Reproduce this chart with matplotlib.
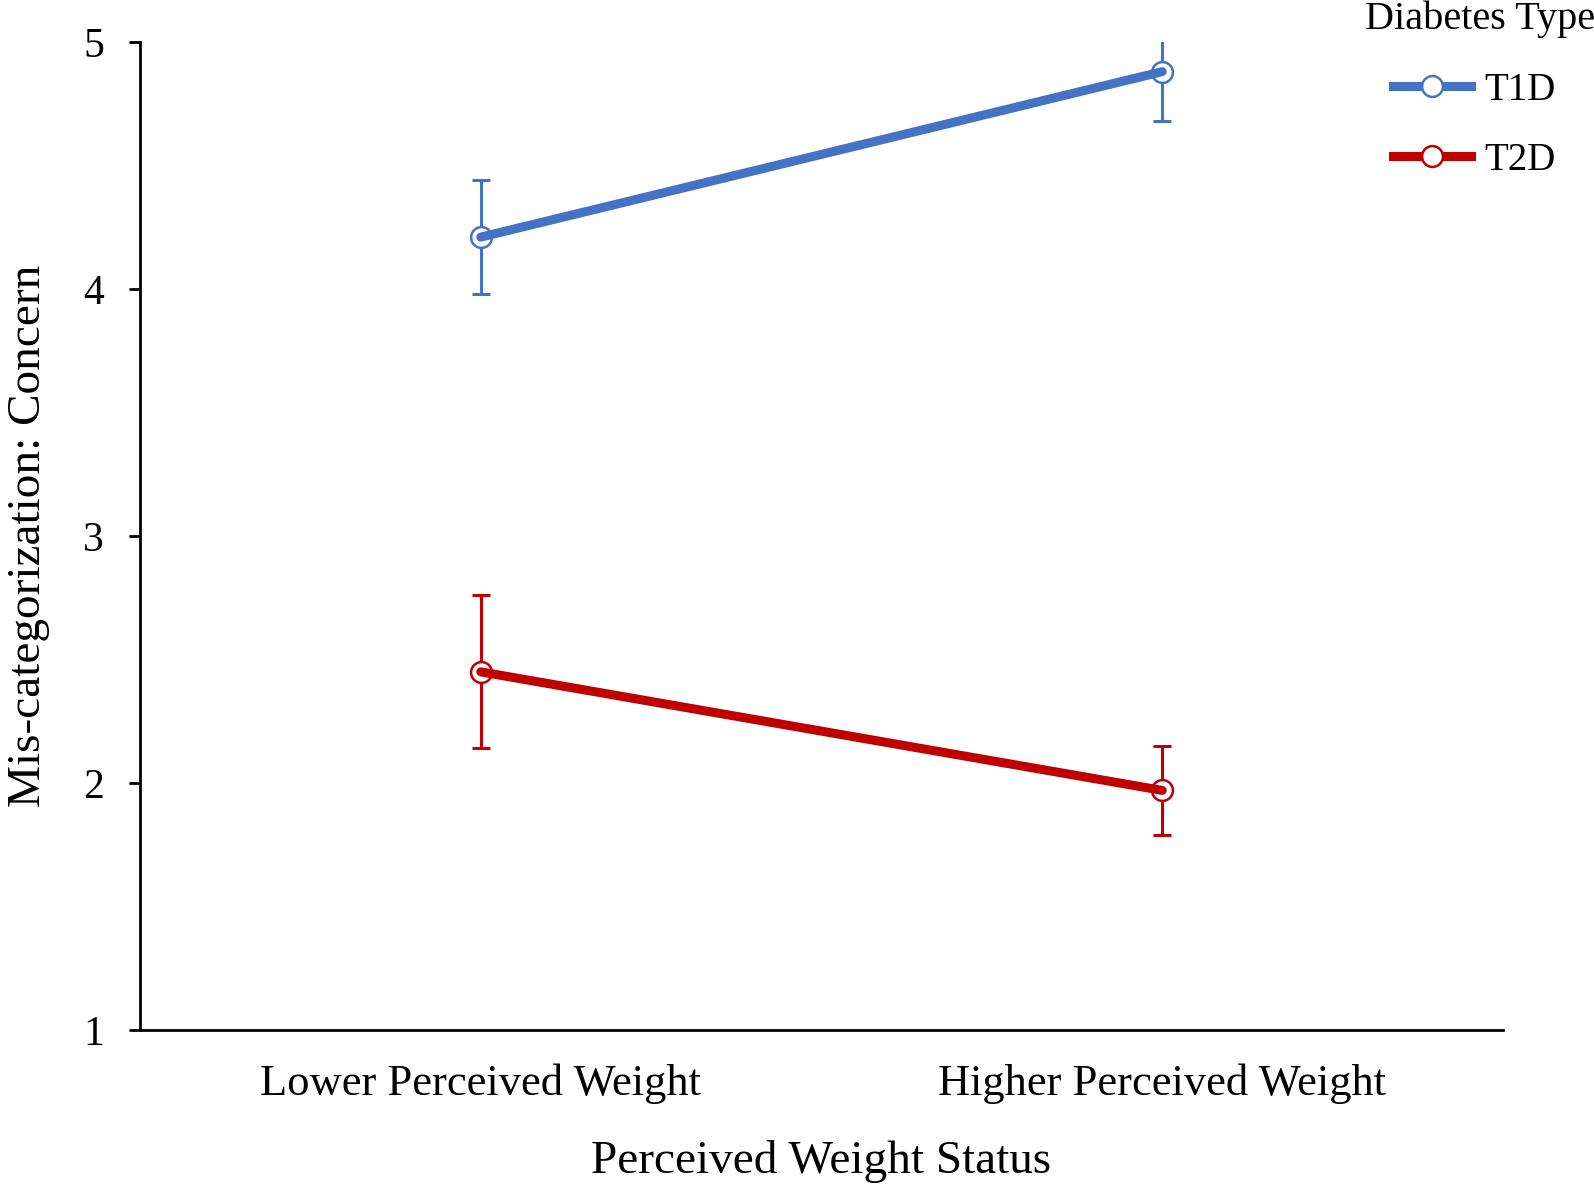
import matplotlib
matplotlib.use("Agg")
import matplotlib.pyplot as plt
from matplotlib.lines import Line2D

categories = ["Lower Perceived Weight", "Higher Perceived Weight"]
series_names = ["T1D", "T2D"]
t1d_means = [4.21, 4.88]
t1d_err = [0.23, 0.20]
t2d_means = [2.45, 1.97]
t2d_err = [0.31, 0.18]
yticks = [1, 2, 3, 4, 5]

colors = ["#4472C4", "#C00000"]

plt.rcParams['font.family'] = ['Liberation Serif', 'DejaVu Serif']

fig = plt.figure(figsize=(15.94, 11.84), dpi=100)
ax = fig.add_axes([140/1594, 1 - 1030/1184, (1503-140)/1594, (1030-42)/1184])

x = list(range(len(categories)))
for means, errs, c in [(t1d_means, t1d_err, colors[0]), (t2d_means, t2d_err, colors[1])]:
    ax.errorbar(x, means, yerr=errs, fmt='none', ecolor=c, elinewidth=2.2,
                capsize=6.5, capthick=2.2, zorder=2)
    ax.plot(x, means, linestyle='none', marker='o', markersize=15,
            markerfacecolor='white', markeredgecolor=c, markeredgewidth=1.8, zorder=3)
    ax.plot(x, means, color=c, linewidth=6.5, solid_capstyle='round', zorder=4)

ax.set_xlim(-0.5, 1.5)
ax.set_ylim(1, 5)
ax.set_yticks(yticks)
ax.set_xticks(x)
ax.set_xticklabels(categories)
ax.spines['top'].set_visible(False)
ax.spines['right'].set_visible(False)
for s in ['left', 'bottom']:
    ax.spines[s].set_linewidth(2)
ax.tick_params(axis='y', direction='out', length=8, width=2, pad=18, labelsize=30)
ax.tick_params(axis='x', length=0, pad=24, labelsize=32)
ax.set_xlabel("Perceived Weight Status", fontsize=34, labelpad=26)
ax.set_ylabel("Mis-categorization: Concern", fontsize=34, labelpad=24)

fig.text(1365/1594, 1 - 29/1184, "Diabetes Type", fontsize=29, ha='left', va='baseline')

handles = [Line2D([0], [0], color=c, linewidth=6.5, marker='o', markersize=15,
                  markerfacecolor='white', markeredgecolor=c, markeredgewidth=1.8)
           for c in colors]
leg = fig.legend(handles, series_names, loc='upper left',
                 bbox_to_anchor=(1393/1594, 1 - 72/1184), frameon=False, fontsize=28,
                 handlelength=2.0, handletextpad=0.35,
                 labelspacing=0.85, borderaxespad=0, borderpad=0)

fig.savefig("out.png", dpi=100)
